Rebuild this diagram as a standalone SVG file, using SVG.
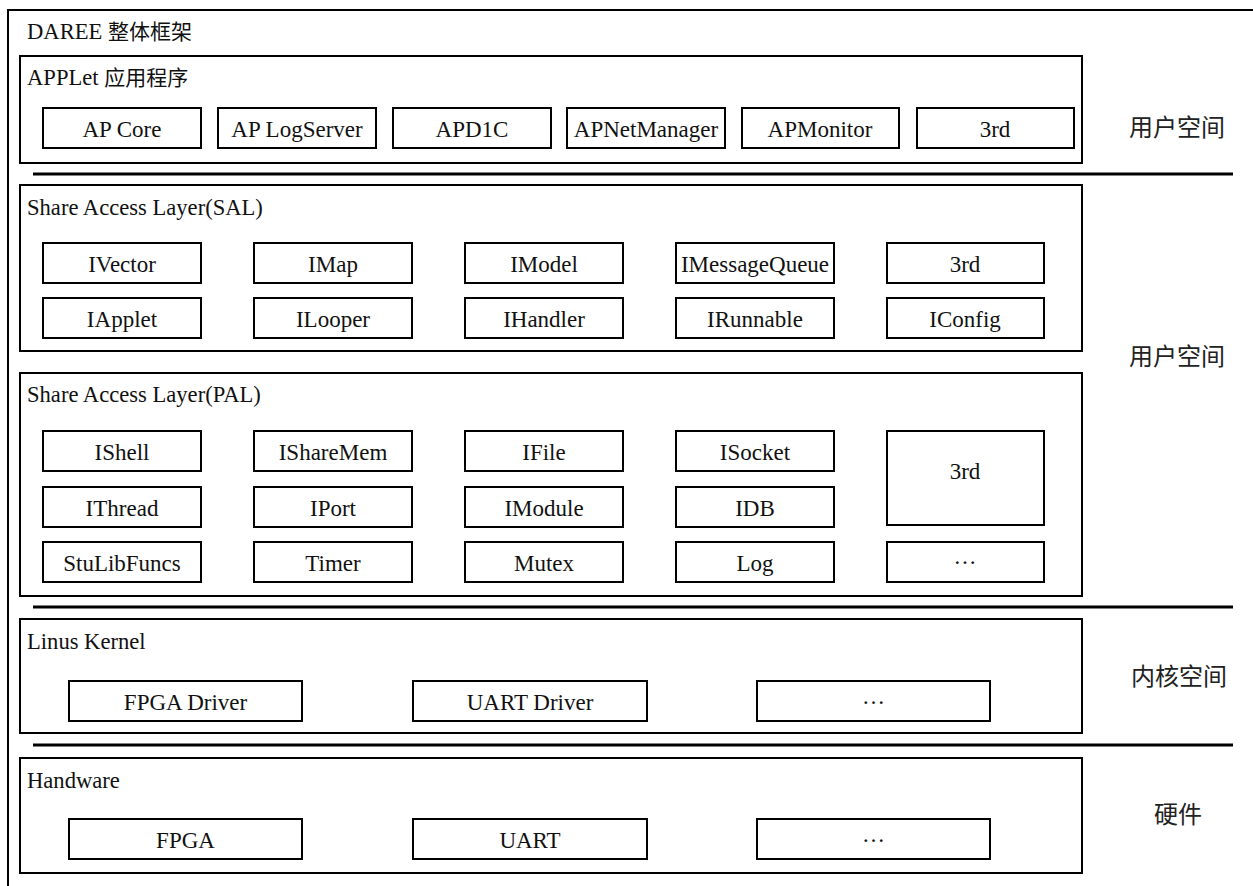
<svg xmlns="http://www.w3.org/2000/svg" width="1253" height="886" viewBox="0 0 1253 886">
<style>
.frame{fill:none;stroke:#000;stroke-width:2}
.layer{fill:#fff;stroke:#000;stroke-width:2}
.box{fill:#fff;stroke:#000;stroke-width:2}
.sep{stroke:#000;stroke-width:3}
.t{font-family:'Liberation Serif','Times New Roman',serif;font-size:23px;fill:#111}
.h{font-size:22.6px}
.c{text-anchor:middle}
.zh{font-family:'Noto Sans CJK SC',sans-serif;font-size:24px;fill:#222}
.zt{font-family:'Noto Sans CJK SC',sans-serif;font-size:21px}
</style>
<rect width="1253" height="886" fill="#fff"/>
<rect class="frame" x="8" y="10" width="1260" height="900"/>
<text class="t h" x="27" y="39">DAREE <tspan class="zt">整体框架</tspan></text>

<g id="applet" class="t">
<rect class="layer" x="20" y="56" width="1062" height="107"/>
<text class="h" x="27" y="85">APPLet <tspan class="zt">应用程序</tspan></text>
<g id="ap-core"><rect class="box" x="43" y="108" width="158" height="40"/><text class="c" x="122" y="137">AP Core</text></g>
<g id="ap-logserver"><rect class="box" x="218" y="108" width="158" height="40"/><text class="c" x="297" y="137">AP LogServer</text></g>
<g id="apd1c"><rect class="box" x="393" y="108" width="158" height="40"/><text class="c" x="472" y="137">APD1C</text></g>
<g id="apnetmanager"><rect class="box" x="567" y="108" width="158" height="40"/><text class="c" x="646" y="137">APNetManager</text></g>
<g id="apmonitor"><rect class="box" x="742" y="108" width="157" height="40"/><text class="c" x="820" y="137">APMonitor</text></g>
<g id="ap-3rd"><rect class="box" x="917" y="108" width="157" height="40"/><text class="c" x="995" y="137">3rd</text></g>
</g>

<g id="sal" class="t">
<rect class="layer" x="20" y="185" width="1062" height="166"/>
<text class="h" x="27" y="215">Share Access Layer(SAL)</text>
<g id="ivector"><rect class="box" x="43" y="243" width="158" height="40"/><text class="c" x="122" y="272">IVector</text></g>
<g id="imap"><rect class="box" x="254" y="243" width="158" height="40"/><text class="c" x="333" y="272">IMap</text></g>
<g id="imodel"><rect class="box" x="465" y="243" width="158" height="40"/><text class="c" x="544" y="272">IModel</text></g>
<g id="imessagequeue"><rect class="box" x="676" y="243" width="158" height="40"/><text class="c" x="755" y="272">IMessageQueue</text></g>
<g id="sal-3rd"><rect class="box" x="887" y="243" width="157" height="40"/><text class="c" x="965" y="272">3rd</text></g>
<g id="iapplet"><rect class="box" x="43" y="298" width="158" height="40"/><text class="c" x="122" y="327">IApplet</text></g>
<g id="ilooper"><rect class="box" x="254" y="298" width="158" height="40"/><text class="c" x="333" y="327">ILooper</text></g>
<g id="ihandler"><rect class="box" x="465" y="298" width="158" height="40"/><text class="c" x="544" y="327">IHandler</text></g>
<g id="irunnable"><rect class="box" x="676" y="298" width="158" height="40"/><text class="c" x="755" y="327">IRunnable</text></g>
<g id="iconfig"><rect class="box" x="887" y="298" width="157" height="40"/><text class="c" x="965" y="327">IConfig</text></g>
</g>

<g id="pal" class="t">
<rect class="layer" x="20" y="373" width="1062" height="223"/>
<text class="h" x="27" y="402">Share Access Layer(PAL)</text>
<g id="ishell"><rect class="box" x="43" y="431" width="158" height="40"/><text class="c" x="122" y="460">IShell</text></g>
<g id="isharemem"><rect class="box" x="254" y="431" width="158" height="40"/><text class="c" x="333" y="460">IShareMem</text></g>
<g id="ifile"><rect class="box" x="465" y="431" width="158" height="40"/><text class="c" x="544" y="460">IFile</text></g>
<g id="isocket"><rect class="box" x="676" y="431" width="158" height="40"/><text class="c" x="755" y="460">ISocket</text></g>
<g id="pal-3rd"><rect class="box" x="887" y="431" width="157" height="94"/><text class="c" x="965" y="479">3rd</text></g>
<g id="ithread"><rect class="box" x="43" y="487" width="158" height="40"/><text class="c" x="122" y="516">IThread</text></g>
<g id="iport"><rect class="box" x="254" y="487" width="158" height="40"/><text class="c" x="333" y="516">IPort</text></g>
<g id="imodule"><rect class="box" x="465" y="487" width="158" height="40"/><text class="c" x="544" y="516">IModule</text></g>
<g id="idb"><rect class="box" x="676" y="487" width="158" height="40"/><text class="c" x="755" y="516">IDB</text></g>
<g id="stulibfuncs"><rect class="box" x="43" y="542" width="158" height="40"/><text class="c" x="122" y="571">StuLibFuncs</text></g>
<g id="timer"><rect class="box" x="254" y="542" width="158" height="40"/><text class="c" x="333" y="571">Timer</text></g>
<g id="mutex"><rect class="box" x="465" y="542" width="158" height="40"/><text class="c" x="544" y="571">Mutex</text></g>
<g id="log"><rect class="box" x="676" y="542" width="158" height="40"/><text class="c" x="755" y="571">Log</text></g>
<g id="pal-more"><rect class="box" x="887" y="542" width="157" height="40"/><text class="c" x="965" y="564">…</text></g>
</g>

<g id="kernel" class="t">
<rect class="layer" x="20" y="619" width="1062" height="114"/>
<text class="h" x="27" y="649">Linus Kernel</text>
<g id="fpga-driver"><rect class="box" x="69" y="681" width="233" height="40"/><text class="c" x="185.5" y="710">FPGA Driver</text></g>
<g id="uart-driver"><rect class="box" x="413" y="681" width="234" height="40"/><text class="c" x="530" y="710">UART Driver</text></g>
<g id="kernel-more"><rect class="box" x="757" y="681" width="233" height="40"/><text class="c" x="873.5" y="704">…</text></g>
</g>

<g id="hardware" class="t">
<rect class="layer" x="20" y="758" width="1062" height="115"/>
<text class="h" x="27" y="788">Handware</text>
<g id="fpga"><rect class="box" x="69" y="819" width="233" height="40"/><text class="c" x="185.5" y="848">FPGA</text></g>
<g id="uart"><rect class="box" x="413" y="819" width="234" height="40"/><text class="c" x="530" y="848">UART</text></g>
<g id="hw-more"><rect class="box" x="757" y="819" width="233" height="40"/><text class="c" x="873.5" y="842">…</text></g>
</g>

<g id="connectors">
<line class="sep" x1="33" y1="174" x2="1233" y2="174"/>
<line class="sep" x1="33" y1="607" x2="1233" y2="607"/>
<line class="sep" x1="33" y1="745" x2="1233" y2="745"/>
</g>

<g id="space-labels">
<text class="zh" x="1129" y="136">用户空间</text>
<text class="zh" x="1129" y="365">用户空间</text>
<text class="zh" x="1131" y="685">内核空间</text>
<text class="zh" x="1154" y="823">硬件</text>
</g>
</svg>
